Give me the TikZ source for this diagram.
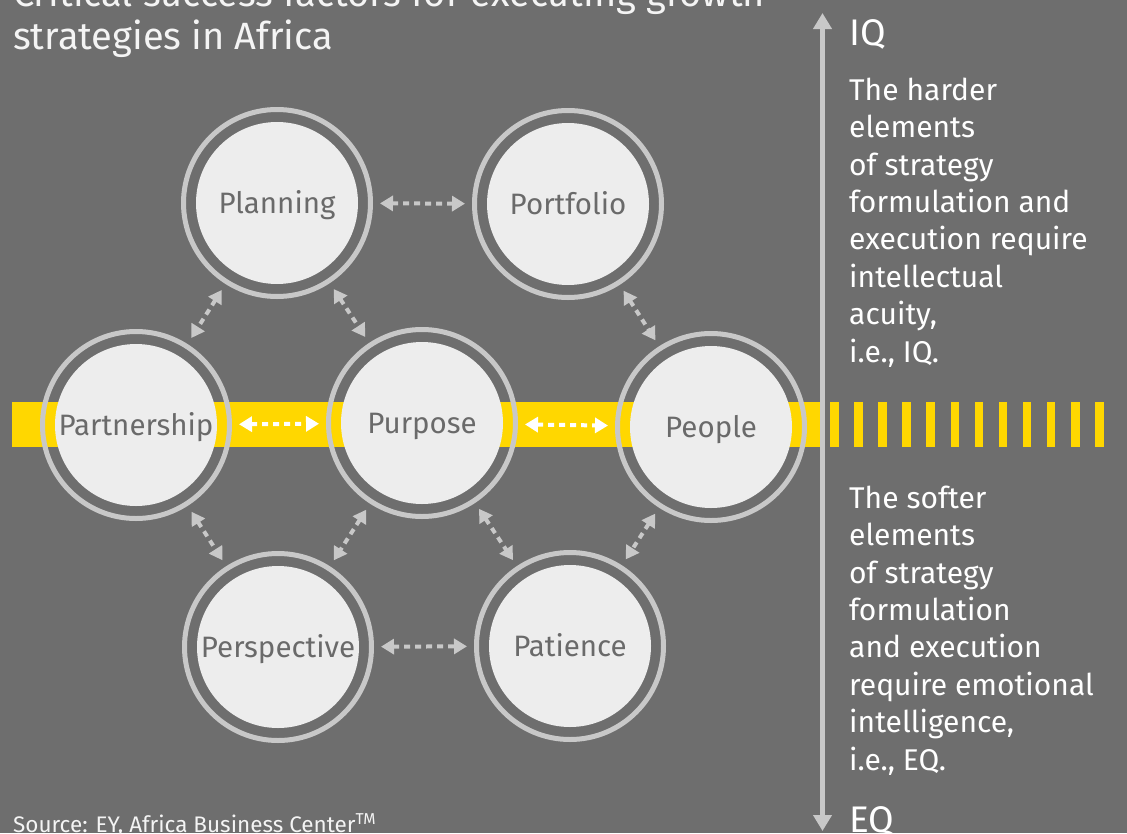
\documentclass[tikz,border=0pt]{standalone}
\usepackage{fontspec}
\setmainfont{Fira Sans}
\usetikzlibrary{arrows.meta,calc}
\definecolor{bg}{HTML}{6E6E6E}
\definecolor{ringc}{HTML}{C8C8C8}
\definecolor{discc}{HTML}{EDEDED}
\definecolor{ey}{HTML}{FFD700}
\definecolor{lblc}{HTML}{6A6A6A}
\definecolor{titlec}{HTML}{F4F4F4}
\tikzset{
  ring/.style={circle, draw=ringc, line width=5pt, minimum size=187pt, inner sep=0pt},
  disc/.style={circle, fill=discc, minimum size=162pt, inner sep=0pt},
  lbl/.style={anchor=base, text=lblc, font=\fontsize{29.5}{32}\selectfont, inner sep=0pt},
  conn/.style={draw=ringc, line width=4pt, dash pattern=on 6pt off 5pt,
    {Triangle[width=15pt,length=13pt]}-{Triangle[width=15pt,length=13pt]},
    shorten <=7pt, shorten >=7pt},
  connw/.style={conn, draw=white},
  side/.style={anchor=base west, text=white, inner sep=0pt, align=left,
    font=\fontsize{30}{37.4}\selectfont},
  big/.style={anchor=base west, text=white, inner sep=0pt,
    font=\fontsize{37}{40}\selectfont},
}
\begin{document}
\begin{tikzpicture}[x=1pt,y=-1pt]
\fill[bg] (0,0) rectangle (1127,833);
\useasboundingbox (0,0) rectangle (1127,833);
% yellow band
\fill[ey] (12,402) rectangle (821,447);
\foreach \i in {0,...,11} {
  \fill[ey] ({830+\i*24.1},402) rectangle ({838.5+\i*24.1},447);
}
% title
\node[anchor=base west, text=titlec, inner sep=0pt,
  font=\fontsize{38}{43}\selectfont] (title) at (13,6)
  {Critical success factors for executing growth};
\node[anchor=base west, text=titlec, inner sep=0pt,
  font=\fontsize{38}{43}\selectfont] (title2) at (13,49)
  {strategies in Africa};
% circles
\foreach \n/\x/\y/\t in {plan/277/203/Planning, port/568/204/Portfolio,
  part/136/425/Partnership, purp/422/423/Purpose, peop/711/427/People,
  pers/278/647/Perspective, pati/570/646/Patience} {
  \node[ring] (\n) at (\x,\y) {};
  \node[disc] (\n-d) at (\n) {};
  \node[lbl] (\n-l) at ($(\n)+(0,10)$) {\t};
}
% connectors
\draw[conn] (plan) -- (port);
\draw[conn] (plan) -- (part);
\draw[conn] (plan) -- (purp);
\draw[conn] (port) -- (peop);
\draw[connw] (part) -- (purp);
\draw[connw] (purp) -- (peop);
\draw[conn] (part) -- (pers);
\draw[conn] (purp) -- (pers);
\draw[conn] (purp) -- (pati);
\draw[conn] (peop) -- (pati);
\draw[conn] (pers) -- (pati);
% vertical IQ/EQ axis
\coordinate (axtop) at (822.5,13);
\coordinate (axbot) at (822.5,831);
\draw[ringc, line width=5pt, {Triangle[width=18pt,length=16pt]}-{Triangle[width=18pt,length=16pt]}] (axtop) -- (axbot);
% right texts (base = last line)
\node[big] (iq) at (849,45) {IQ};
\node[side] (hard) at (849,362) {The harder\\elements\\of strategy\\formulation and\\execution require\\intellectual\\acuity,\\i.e., IQ.};
\node[side] (soft) at (849,770) {The softer\\elements\\of strategy\\formulation\\and execution\\require emotional\\intelligence,\\i.e., EQ.};
\node[big] (eq) at (849,832) {EQ};
% source
\node[anchor=base west, text=titlec, inner sep=0pt, font=\fontsize{22.5}{26}\selectfont] (src) at (13,832) {Source: EY, Africa Business Center\textsuperscript{TM}};
\end{tikzpicture}
\end{document}
